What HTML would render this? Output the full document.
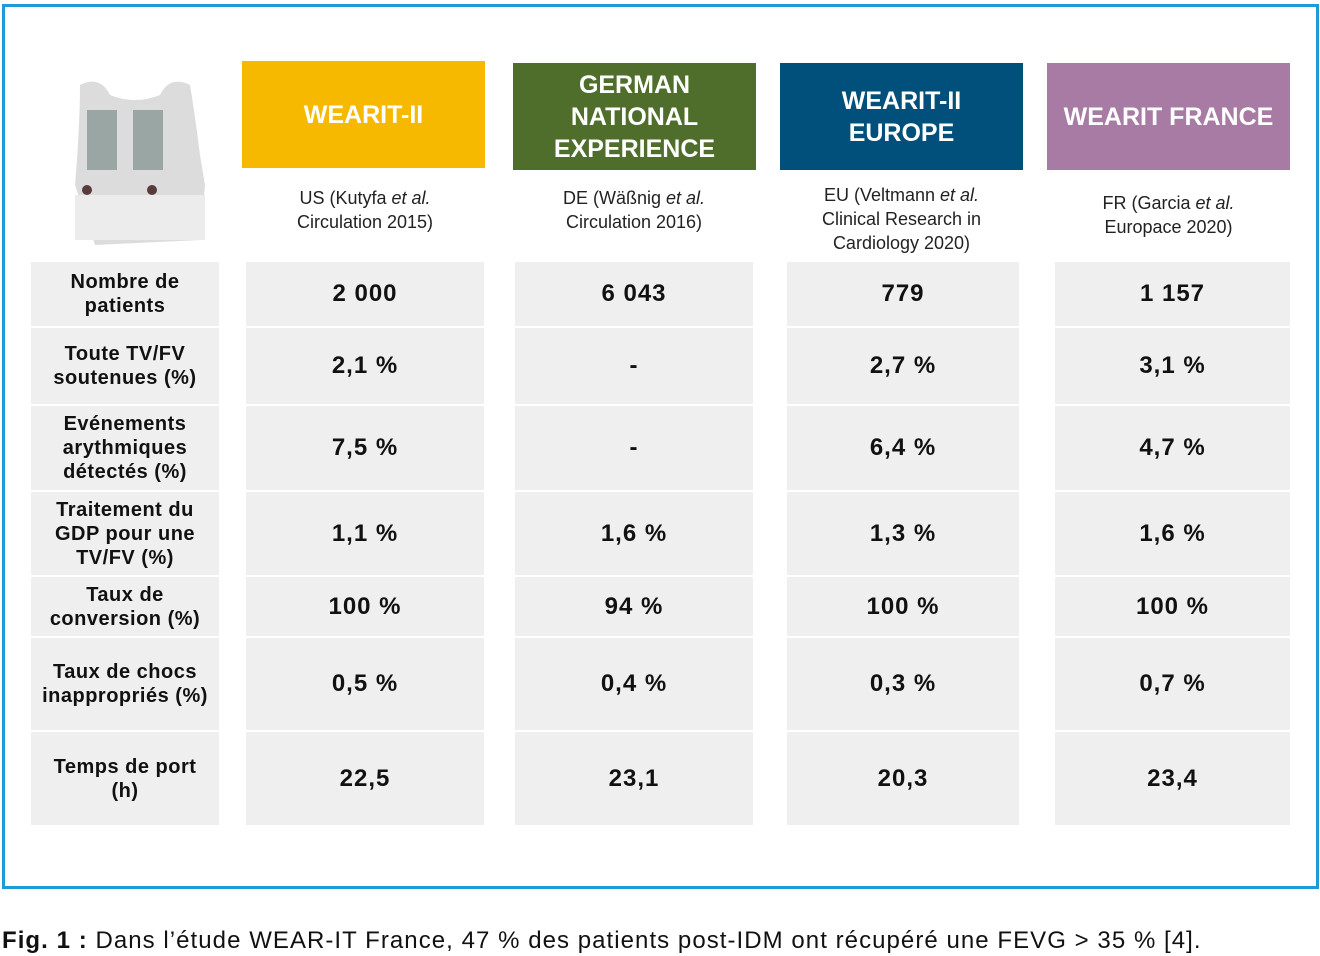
<!DOCTYPE html>
<html><head><meta charset="utf-8"><style>
body{margin:0;width:1320px;height:956px;background:#fff;position:relative;font-family:"Liberation Sans",sans-serif;overflow:hidden}
.a{position:absolute}
.frame{left:2px;top:4px;width:1311px;height:879px;border:3px solid #1e9ad6}
.h{display:flex;align-items:center;justify-content:center;text-align:center;color:#fff;font-weight:bold;font-size:25px;line-height:32px}
.c{display:flex;align-items:center;justify-content:center;text-align:center;background:#efefef;color:#111}
.lab{font-weight:bold;font-size:20px;line-height:24px;letter-spacing:0.5px}
.v{font-weight:bold;font-size:24px;letter-spacing:1px}
.s{display:flex;align-items:center;justify-content:center;text-align:center;font-size:18px;line-height:24px;color:#222}
</style></head><body>
<div class="a frame"></div>
<svg class="a" style="left:55px;top:75px" width="160" height="185">
<path d="M25 10 Q45 0 55 20 Q80 30 105 20 Q115 0 135 10 Q140 40 145 80 L150 110 L145 165 L40 170 L20 110 Q25 50 25 10Z" fill="#dcdcdc"/>
<rect x="32" y="35" width="30" height="60" fill="#9aa6a4"/><rect x="78" y="35" width="30" height="60" fill="#9aa6a4"/>
<rect x="20" y="120" width="130" height="45" fill="#ececec"/>
<circle cx="32" cy="115" r="5" fill="#5a3b3b"/><circle cx="97" cy="115" r="5" fill="#5a3b3b"/>
</svg>
<div class="a h" style="left:242px;top:61px;width:243px;height:107px;background:#f7b900">WEARIT-II</div>
<div class="a h" style="left:513px;top:63px;width:243px;height:107px;background:#4f6e2b">GERMAN<br>NATIONAL<br>EXPERIENCE</div>
<div class="a h" style="left:780px;top:63px;width:243px;height:107px;background:#00507b">WEARIT-II<br>EUROPE</div>
<div class="a h" style="left:1047px;top:63px;width:243px;height:107px;background:#a87ba4">WEARIT FRANCE</div>
<div class="a s" style="left:246px;top:180px;width:238px;height:60px"><div>US (Kutyfa <i>et al.</i><br>Circulation 2015)</div></div>
<div class="a s" style="left:515px;top:180px;width:238px;height:60px"><div>DE (Wäßnig <i>et al.</i><br>Circulation 2016)</div></div>
<div class="a s" style="left:780px;top:183px;width:243px;height:72px"><div>EU (Veltmann <i>et al.</i><br>Clinical Research in<br>Cardiology 2020)</div></div>
<div class="a s" style="left:1047px;top:185px;width:243px;height:60px"><div>FR (Garcia <i>et al.</i><br>Europace 2020)</div></div>
<div id="g"></div>
<script>
var rows=[[262,326,"Nombre de<br>patients",["2 000","6 043","779","1 157"]],
[328,404,"Toute TV/FV<br>soutenues (%)",["2,1 %","-","2,7 %","3,1 %"]],
[406,490,"Evénements<br>arythmiques<br>détectés (%)",["7,5 %","-","6,4 %","4,7 %"]],
[492,575,"Traitement du<br>GDP pour une<br>TV/FV (%)",["1,1 %","1,6 %","1,3 %","1,6 %"]],
[577,636,"Taux de<br>conversion (%)",["100 %","94 %","100 %","100 %"]],
[638,730,"Taux de chocs<br>inappropriés (%)",["0,5 %","0,4 %","0,3 %","0,7 %"]],
[732,825,"Temps de port<br>(h)",["22,5","23,1","20,3","23,4"]]];
var cols=[[246,238],[515,238],[787,232],[1055,235]];
var h="";
rows.forEach(function(r){var t=r[0],hh=r[1]-r[0];
h+='<div class="a c lab" style="left:31px;top:'+t+'px;width:188px;height:'+hh+'px"><div>'+r[2]+'</div></div>';
cols.forEach(function(c,i){h+='<div class="a c v" style="left:'+c[0]+'px;top:'+t+'px;width:'+c[1]+'px;height:'+hh+'px">'+r[3][i]+'</div>';});});
document.getElementById("g").innerHTML=h;
</script>
<div class="a" style="left:2px;top:927px;font-size:24px;letter-spacing:1.05px;color:#111;white-space:nowrap"><b>Fig. 1 :</b> Dans l’étude WEAR-IT France, 47 % des patients post-IDM ont récupéré une FEVG &gt; 35 % [4].</div>
</body></html>
